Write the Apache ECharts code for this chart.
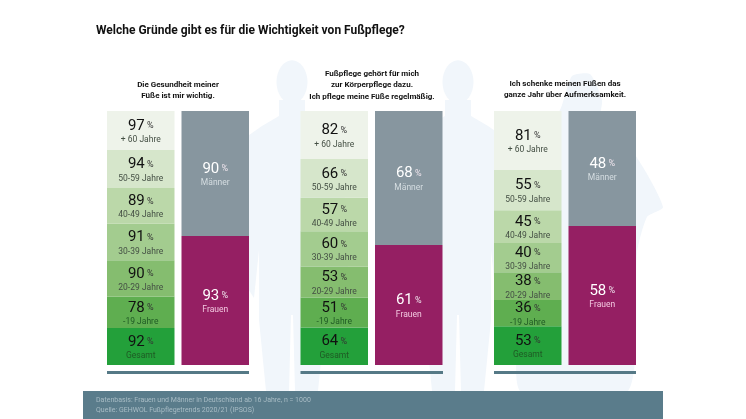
<!DOCTYPE html>
<html>
<head>
<meta charset="utf-8">
<style>html,body{margin:0;padding:0;background:#fff}#main{width:746px;height:419px}</style>
<script src="https://cdn.jsdelivr.net/npm/echarts@6/dist/echarts.min.js"></script>
</head>
<body>
<div id="main"></div>
<script>
// Werte von oben nach unten
var ageLabels = ['+ 60 Jahre', '50-59 Jahre', '40-49 Jahre', '30-39 Jahre', '20-29 Jahre', '-19 Jahre', 'Gesamt'];
var genderLabels = ['Männer', 'Frauen'];
var ageHealth = [97, 94, 89, 91, 90, 78, 92];
var ageCare = [82, 66, 57, 60, 53, 51, 64];
var ageAttention = [81, 55, 45, 40, 38, 36, 53];
var genderHealth = [90, 93];
var genderCare = [68, 61];
var genderAttention = [48, 58];
var groupTitles = [
	'Die Gesundheit meiner\nFüße ist mir wichtig.',
	'Fußpflege gehört für mich\nzur Körperpflege dazu.\nIch pflege meine Füße regelmäßig.',
	'Ich schenke meinen Füßen das\nganze Jahr über Aufmerksamkeit.'
];

var ageColors = ['#eef3ea', '#d6e6cb', '#bbd8a9', '#a3cc8f', '#85bd6f', '#5fae50', '#23a03a'];
var genderColors = ['#87969f', '#951f63'];
var font = 'Roboto, sans-serif';

var columns = [
	{ left: 107, names: ageLabels, values: ageHealth, colors: ageColors, light: false },
	{ left: 181.5, names: genderLabels, values: genderHealth, colors: genderColors, light: true },
	{ left: 300.5, names: ageLabels, values: ageCare, colors: ageColors, light: false },
	{ left: 375, names: genderLabels, values: genderCare, colors: genderColors, light: true },
	{ left: 494, names: ageLabels, values: ageAttention, colors: ageColors, light: false },
	{ left: 568.5, names: genderLabels, values: genderAttention, colors: genderColors, light: true }
];

var grids = [], xAxes = [], yAxes = [], series = [];
columns.forEach(function(col, c) {
	var sum = col.values.reduce(function(a, b) { return a + b; }, 0);
	grids.push({ left: col.left, top: 111, width: 67.5, height: 254 });
	xAxes.push({ type: 'category', gridIndex: c, data: ['x'], show: false });
	yAxes.push({ type: 'value', gridIndex: c, min: 0, max: sum, show: false });
	// gestapelt von unten nach oben
	for (var i = col.values.length - 1; i >= 0; i--) {
		series.push({
			type: 'bar',
			name: col.names[i],
			xAxisIndex: c,
			yAxisIndex: c,
			stack: 's' + c,
			barWidth: '100%',
			silent: true,
			itemStyle: { color: col.colors[i] },
			label: {
				show: true,
				position: 'inside',
				offset: [0, 2],
				formatter: '{n|' + col.values[i] + '}{p| %}\n{s|' + col.names[i] + '}',
				rich: {
					n: { fontFamily: font, fontSize: 15, color: col.light ? '#ffffff' : '#111111', lineHeight: 15 },
					p: { fontFamily: font, fontSize: 9, color: col.light ? '#f0e6ee' : '#333333', lineHeight: 15 },
					s: { fontFamily: font, fontSize: 8.5, lineHeight: 13, color: col.light ? (i == 0 ? '#d5dde1' : '#f3c8e0') : (i > 4 ? '#1f5a24' : '#444f44') }
				}
			},
			data: [col.values[i]]
		});
	}
});

// Hintergrund: Silhouetten
var bodyShape = [[-13, 40], [-13, 56], [-30, 66], [-50, 80], [-56, 210], [-38, 238], [-33, 190], [-33, 260], [-26, 331], [-3, 331], [-1, 255], [1, 255], [3, 331], [26, 331], [33, 260], [33, 190], [38, 238], [56, 210], [50, 80], [30, 66], [13, 56], [13, 40]];
function person(cx, top) {
	return [
		{ type: 'polygon', z: -10, silent: true, shape: { points: bodyShape.map(function(p) { return [cx + p[0], top + p[1]]; }) }, style: { fill: '#f1f6fb' } },
		{ type: 'circle', z: -10, silent: true, x: cx, y: top + 22, scaleY: 1.4, shape: { r: 15.5 }, style: { fill: '#f1f6fb' } }
	];
}
var graphics = person(292, 60).concat(person(458, 60)).concat([
	{ type: 'polygon', z: -10, silent: true, shape: { smooth: 0.2, points: [[560, 110], [572, 76], [590, 74], [602, 100], [600, 125], [635, 155], [663, 207], [647, 217], [637, 253], [628, 391], [520, 391], [528, 250], [530, 150]] }, style: { fill: '#f1f6fb' } },
	{ type: 'rect', silent: true, shape: { x: 107, y: 371, width: 142, height: 3 }, style: { fill: '#557986' } },
	{ type: 'rect', silent: true, shape: { x: 300.5, y: 371, width: 142.5, height: 3 }, style: { fill: '#557986' } },
	{ type: 'rect', silent: true, shape: { x: 494, y: 371, width: 142, height: 3 }, style: { fill: '#557986' } },
	{ type: 'rect', silent: true, shape: { x: 83, y: 391, width: 580, height: 28 }, style: { fill: '#5a7c8b' } },
	{ type: 'text', x: 96, y: 395, silent: true, style: { text: 'Datenbasis: Frauen und Männer in Deutschland ab 16 Jahre, n = 1000\nQuelle: GEHWOL Fußpflegetrends 2020/21 (IPSOS)', font: '7px Roboto, sans-serif', lineHeight: 10, fill: '#a8bcc5' } }
]);

var titleCenters = [178, 372, 565];
var titleBottoms = [102, 102.5, 101];
var titles = [{
	text: 'Welche Gründe gibt es für die Wichtigkeit von Fußpflege?',
	left: 96,
	top: 25,
	padding: 0,
	textStyle: { fontFamily: 'Roboto', fontWeight: 'bold', fontSize: 12, color: '#111111' }
}];
groupTitles.forEach(function(t, i) {
	titles.push({
		text: t,
		left: titleCenters[i],
		bottom: 419 - titleBottoms[i],
		textAlign: 'center',
		padding: 0,
		textStyle: { fontFamily: 'Roboto', fontWeight: 'bold', fontSize: 8, lineHeight: 11.5, color: '#111111', align: 'center' }
	});
});

var myChart = echarts.init(document.getElementById('main'), null, { renderer: 'canvas' });
myChart.setOption({
	animation: false,
	backgroundColor: '#ffffff',
	title: titles,
	tooltip: { show: false },
	legend: { show: false },
	grid: grids,
	xAxis: xAxes,
	yAxis: yAxes,
	series: series,
	graphic: graphics
});
</script>
</body>
</html>
